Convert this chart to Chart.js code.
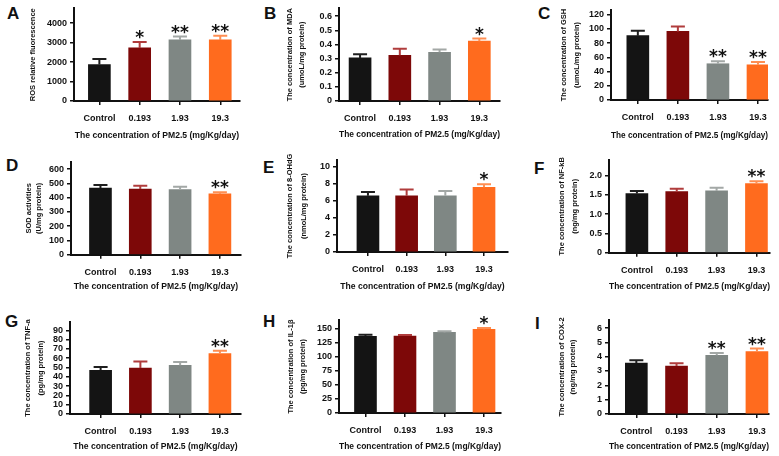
<!DOCTYPE html>
<html>
<head>
<meta charset="utf-8">
<script src="https://cdn.jsdelivr.net/npm/chart.js@4.4.1/dist/chart.umd.min.js"></script>
<style>
  body { margin: 0; background: #fff; }
  #wrap { position: relative; width: 779px; height: 456px; overflow: hidden; }
  canvas { position: absolute; }
  .tag { position: absolute; font: bold 17px/17px "Liberation Sans", Arial, sans-serif; color: #111; }
</style>
</head>
<body>
<div id="wrap"></div>
<script>
// doses on the x axis
const categories = ['Control', '0.193', '1.93', '19.3']

// A - ROS
const rosMean = [1870, 2730, 3140, 3140]
const rosErr = [290, 300, 170, 220]
const rosSig = ['', '*', '**', '**']
// B - MDA
const mdaMean = [0.305, 0.323, 0.344, 0.423]
const mdaErr = [0.025, 0.047, 0.021, 0.019]
const mdaSig = ['', '', '', '*']
// C - GSH
const gshMean = [90.5, 96.5, 51, 49.5]
const gshErr = [7, 7, 3.5, 4]
const gshSig = ['', '', '**', '**']
// D - SOD
const sodMean = [467, 460, 456, 426]
const sodErr = [22, 23, 20, 12]
const sodSig = ['', '', '', '**']
// E - 8-OHdG
const ohdgMean = [6.6, 6.6, 6.6, 7.6]
const ohdgErr = [0.45, 0.75, 0.55, 0.35]
const ohdgSig = ['', '', '', '*']
// F - NF-kB
const nfkbMean = [1.53, 1.58, 1.60, 1.79]
const nfkbErr = [0.07, 0.075, 0.08, 0.06]
const nfkbSig = ['', '', '', '**']
// G - TNF-a
const tnfMean = [47, 49.5, 52.5, 65]
const tnfErr = [3.5, 7, 3.5, 3]
const tnfSig = ['', '', '', '**']
// H - IL-1b
const ilMean = [136, 136.5, 143, 148.5]
const ilErr = [3, 2, 2, 2.5]
const ilSig = ['', '', '', '*']
// I - COX-2
const coxMean = [3.55, 3.35, 4.1, 4.35]
const coxErr = [0.2, 0.2, 0.15, 0.22]
const coxSig = ['', '', '**', '**']

const barColors = ['#141414', '#7d0808', '#7f8784', '#ff6b1e']
const errColors = ['#1e1e1e', '#b03c3c', '#a3a8a6', '#ff8e52']
const xTitle = 'The concentration of PM2.5 (mg/Kg/day)'

// panel layout: cell box, plot box (page coords), y range, title spots
const panels = [
  { tag: 'A', tagX: 7, tagY: 7, mean: rosMean, err: rosErr, sig: rosSig, yTitle: 'ROS relative fluorescence',
    cx: 0, cy: 0, cw: 259, ch: 150, L: 74, T: 7, R: 240, B: 101, yMax: 4760, step: 1000, xMin: -0.63, xMax: 3.49, t1: 33, lh: 12, xt: 136 },
  { tag: 'B', tagX: 264, tagY: 7, mean: mdaMean, err: mdaErr, sig: mdaSig, yTitle: ['The concentration of MDA', '(umoL/mg protein)'],
    cx: 260, cy: 0, cw: 259, ch: 150, L: 339, T: 7, R: 500, B: 101, yMax: 0.655, step: 0.1, xMin: -0.53, xMax: 3.52, t1: 290, lh: 12, xt: 135 },
  { tag: 'C', tagX: 538, tagY: 7, mean: gshMean, err: gshErr, sig: gshSig, yTitle: ['The concentration of GSH', '(umoL/mg protein)'],
    cx: 520, cy: 0, cw: 259, ch: 150, L: 611, T: 10, R: 768, B: 100, yMax: 126.6, step: 20, xMin: -0.67, xMax: 3.25, t1: 564, lh: 13, xt: 136 },
  { tag: 'D', tagX: 6, tagY: 159, mean: sodMean, err: sodErr, sig: sodSig, yTitle: ['SOD activities', '(U/mg protein)'],
    cx: 0, cy: 150, cw: 259, ch: 150, L: 71, T: 162, R: 241, B: 254.7, yMax: 650, step: 100, xMin: -0.74, xMax: 3.53, t1: 29, lh: 10, xt: 287 },
  { tag: 'E', tagX: 263, tagY: 161, mean: ohdgMean, err: ohdgErr, sig: ohdgSig, yTitle: ['The concentration of 8-OHdG', '(nmoL/mg protein)'],
    cx: 260, cy: 150, cw: 259, ch: 150, L: 337, T: 160, R: 508, B: 252, yMax: 10.8, step: 2, xMin: -0.8, xMax: 3.62, t1: 290, lh: 14, xt: 287 },
  { tag: 'F', tagX: 534, tagY: 162, mean: nfkbMean, err: nfkbErr, sig: nfkbSig, yTitle: ['The concentration of NF-kB', '(ng/mg protein)'],
    cx: 520, cy: 150, cw: 259, ch: 150, L: 609, T: 160, R: 770, B: 252.7, yMax: 2.4, step: 0.5, xMin: -0.7, xMax: 3.34, t1: 562, lh: 13, xt: 287 },
  { tag: 'G', tagX: 5, tagY: 315, mean: tnfMean, err: tnfErr, sig: tnfSig, yTitle: ['The concentration of TNF-a', '(pg/mg protein)'],
    cx: 0, cy: 300, cw: 259, ch: 156, L: 70, T: 322, R: 241, B: 414, yMax: 99, step: 10, xMin: -0.77, xMax: 3.53, t1: 28, lh: 13, xt: 446.5 },
  { tag: 'H', tagX: 263, tagY: 315, mean: ilMean, err: ilErr, sig: ilSig, yTitle: ['The concentration of IL-1\u03b2', '(pg/mg protein)'],
    cx: 260, cy: 300, cw: 259, ch: 156, L: 339, T: 320, R: 501, B: 413, yMax: 165, step: 25, xMin: -0.67, xMax: 3.43, t1: 291, lh: 12, xt: 446.5 },
  { tag: 'I', tagX: 535, tagY: 317, mean: coxMean, err: coxErr, sig: coxSig, yTitle: ['The concentration of COX-2', '(ng/mg protein)'],
    cx: 520, cy: 300, cw: 259, ch: 156, L: 609, T: 320, R: 769, B: 414, yMax: 6.56, step: 1, xMin: -0.68, xMax: 3.3, t1: 562, lh: 11, xt: 447 }
]

Chart.defaults.font.family = '"Liberation Sans", Arial, sans-serif'
Chart.defaults.color = '#111'

// error bars (upper half only) plus significance stars
const errorBars = {
  id: 'errorBars',
  afterDatasetsDraw(chart, args, opts) {
    const ctx = chart.ctx
    const yScale = chart.scales.y
    const meta = chart.getDatasetMeta(0)
    const values = chart.data.datasets[0].data
    meta.data.forEach((bar, i) => {
      const top = yScale.getPixelForValue(values[i].y + opts.err[i])
      ctx.save()
      ctx.strokeStyle = errColors[i]
      ctx.lineWidth = 2
      ctx.beginPath()
      ctx.moveTo(bar.x, bar.y)
      ctx.lineTo(bar.x, top)
      ctx.moveTo(bar.x - 7, top)
      ctx.lineTo(bar.x + 7, top)
      ctx.stroke()
      if (opts.sig[i]) {
        ctx.fillStyle = '#111'
        ctx.font = 'bold 17px "DejaVu Sans"'
        ctx.textAlign = 'center'
        ctx.textBaseline = 'alphabetic'
        ctx.fillText(opts.sig[i], bar.x, top + 1)
      }
      ctx.restore()
    })
  }
}

const wrap = document.getElementById('wrap')

panels.forEach(p => {
  const tag = document.createElement('div')
  tag.className = 'tag'
  tag.textContent = p.tag
  tag.style.left = p.tagX + 'px'
  tag.style.top = (p.tagY - 2.2) + 'px'
  wrap.appendChild(tag)

  const canvas = document.createElement('canvas')
  canvas.width = p.cw
  canvas.height = p.ch
  canvas.style.left = p.cx + 'px'
  canvas.style.top = p.cy + 'px'
  wrap.appendChild(canvas)

  // y ticks every step from 0 up to the axis top
  const yTicks = []
  for (let v = 0; v <= p.yMax + 1e-9; v += p.step) yTicks.push({ value: +v.toFixed(6) })

  new Chart(canvas.getContext('2d'), {
    type: 'bar',
    data: {
      datasets: [{
        data: p.mean.map((v, i) => ({ x: i, y: v })),
        backgroundColor: barColors,
        barThickness: 22
      }]
    },
    options: {
      responsive: false,
      animation: false,
      devicePixelRatio: 1,
      layout: { padding: { left: 0, top: p.T - p.cy, right: p.cx + p.cw - p.R, bottom: 0 } },
      plugins: {
        legend: { display: false },
        tooltip: { enabled: false },
        errorBars: { err: p.err, sig: p.sig }
      },
      scales: {
        x: {
          type: 'linear',
          offset: false,
          min: p.xMin,
          max: p.xMax,
          afterBuildTicks: s => { s.ticks = categories.map((c, i) => ({ value: i })) },
          afterFit: s => { s.height = p.cy + p.ch - p.B },
          grid: { offset: false, drawOnChartArea: false, tickLength: 4, color: '#111', lineWidth: 1.5 },
          border: { color: '#111', width: 2 },
          ticks: {
            autoSkip: false,
            maxRotation: 0,
            padding: 8,
            font: { size: 9, weight: 'bold' },
            callback: v => categories[v] ?? ''
          },
          title: {
            display: true,
            text: xTitle,
            font: { size: 8.6, weight: 'bold', lineHeight: 1.2 },
            padding: { top: 0, bottom: p.cy + p.ch - p.xt - 5.2 }
          }
        },
        y: {
          min: 0,
          max: p.yMax,
          afterBuildTicks: s => { s.ticks = yTicks },
          afterFit: s => { s.width = p.L - p.cx },
          grid: { drawOnChartArea: false, tickLength: 4, color: '#111', lineWidth: 1.5 },
          border: { color: '#111', width: 2 },
          ticks: {
            autoSkip: false,
            padding: 3,
            font: { size: 9, weight: 'bold' },
            callback: v => v === 0 ? '0' : v.toLocaleString('en-US', { useGrouping: false, minimumFractionDigits: p.step < 1 ? 1 : 0 })
          },
          title: {
            display: true,
            text: p.yTitle,
            font: { size: 7.5, weight: 'bold', lineHeight: p.lh / 7.5 },
            padding: { top: p.t1 - p.cx - p.lh / 2, bottom: 0 }
          }
        }
      }
    },
    plugins: [errorBars]
  })
})
</script>
</body>
</html>
